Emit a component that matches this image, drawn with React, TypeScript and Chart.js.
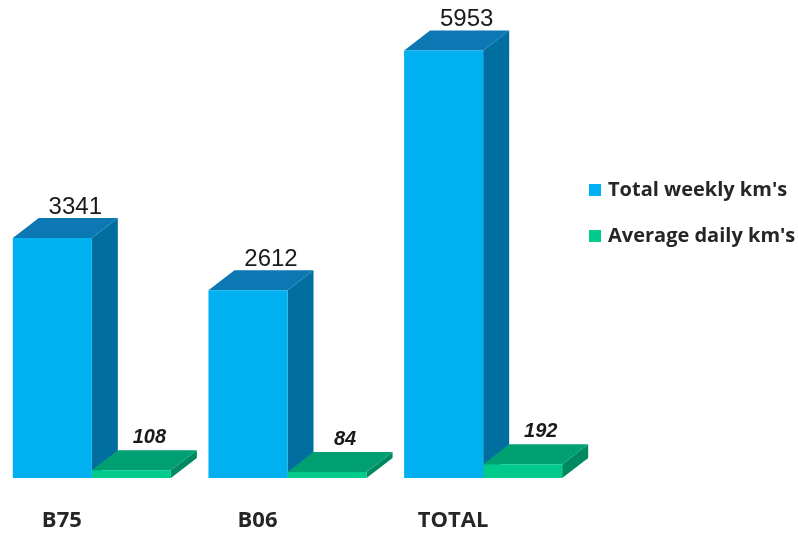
import React, { useEffect, useRef } from "react";
import { Chart, registerables } from "chart.js";

Chart.register(...registerables);

const categories = ["B75", "B06", "TOTAL"];
const totalWeeklyKm = [3341, 2612, 5953];
const averageDailyKm = [108, 84, 192];
const seriesNames = ["Total weekly km's", "Average daily km's"];

const DX = 26;
const DY = 20;
const faceColors = [
  { front: "#00B0F0", top: "#0B78B4", side: "#006E9F" },
  { front: "#00CA8C", top: "#00A072", side: "#008A62" },
];

const bars3d = {
  id: "bars3d",
  beforeDatasetsDraw(chart: any) {
    const ctx = chart.ctx;
    ctx.save();
    chart.data.datasets.forEach((_ds: any, di: number) => {
      const meta = chart.getDatasetMeta(di);
      const c = faceColors[di];
      meta.data.forEach((el: any) => {
        const { x, y, base, width } = el.getProps(["x", "y", "base", "width"], true);
        const l = x - width / 2;
        const r = x + width / 2;
        ctx.fillStyle = c.side;
        ctx.beginPath();
        ctx.moveTo(r, y);
        ctx.lineTo(r + DX, y - DY);
        ctx.lineTo(r + DX, base - DY);
        ctx.lineTo(r, base);
        ctx.closePath();
        ctx.fill();
        ctx.fillStyle = c.top;
        ctx.beginPath();
        ctx.moveTo(l, y);
        ctx.lineTo(l + DX, y - DY);
        ctx.lineTo(r + DX, y - DY);
        ctx.lineTo(r, y);
        ctx.closePath();
        ctx.fill();
      });
    });
    ctx.restore();
  },
  afterDatasetsDraw(chart: any) {
    const ctx = chart.ctx;
    ctx.save();
    ctx.textAlign = "center";
    ctx.textBaseline = "alphabetic";
    chart.data.datasets.forEach((ds: any, di: number) => {
      const meta = chart.getDatasetMeta(di);
      meta.data.forEach((el: any, i: number) => {
        const { x, y } = el.getProps(["x", "y"], true);
        const v = ds.data[i];
        ctx.fillStyle = "#1a1a1a";
        if (di === 0) {
          ctx.font = "24px 'Liberation Sans', Arial, sans-serif";
          ctx.fillText(String(v), x + DX - 3, y - DY - 4);
        } else {
          ctx.font = "italic bold 20px 'Liberation Sans', Arial, sans-serif";
          ctx.fillText(String(v), x + 18, y - DY - 7);
        }
      });
    });
    ctx.restore();
  },
  afterDraw(chart: any) {
    const ctx = chart.ctx;
    ctx.save();
    const x0 = chart.chartArea.right + 8;
    const rows = [190, 236];
    ctx.font = "bold 20px 'Open Sans', sans-serif";
    ctx.textAlign = "left";
    ctx.textBaseline = "middle";
    chart.data.datasets.forEach((ds: any, di: number) => {
      const yc = rows[di];
      ctx.fillStyle = ds.backgroundColor;
      ctx.fillRect(x0, yc - 6, 12, 12);
      ctx.fillStyle = "#262626";
      ctx.fillText(ds.label, x0 + 19, yc);
    });
    ctx.restore();
  },
};

export default function App() {
  const ref = useRef<HTMLCanvasElement | null>(null);
  useEffect(() => {
    if (!ref.current) return;
    const chart = new Chart(ref.current, {
      type: "bar",
      data: {
        labels: categories,
        datasets: [
          {
            label: seriesNames[0],
            data: totalWeeklyKm,
            backgroundColor: faceColors[0].front,
            borderWidth: 0,
          },
          {
            label: seriesNames[1],
            data: averageDailyKm,
            backgroundColor: faceColors[1].front,
            borderWidth: 0,
          },
        ],
      },
      options: {
        animation: false,
        responsive: true,
        maintainAspectRatio: false,
        layout: { padding: { left: 0, right: 217, top: 47, bottom: 0 } },
        datasets: {
          bar: { categoryPercentage: 0.808, barPercentage: 1 },
        },
        plugins: {
          legend: { display: false },
          tooltip: { enabled: false },
          title: { display: false },
        },
        scales: {
          y: { display: false, min: 0, max: 6000 },
          x: {
            grid: { display: false, drawTicks: false },
            border: { display: false },
            afterFit: (scale: any) => {
              scale.height = 56;
            },
            ticks: {
              padding: 30,
              labelOffset: -30,
              color: "#262626",
              font: { family: "'Open Sans', sans-serif", size: 22, weight: "bold" },
            },
          },
        },
      },
      plugins: [bars3d],
    });
    return () => chart.destroy();
  }, []);
  return (
    <div style={{ position: "fixed", left: -6, top: 0, width: 804, height: 534, background: "#fff" }}>
      <canvas ref={ref} />
    </div>
  );
}
